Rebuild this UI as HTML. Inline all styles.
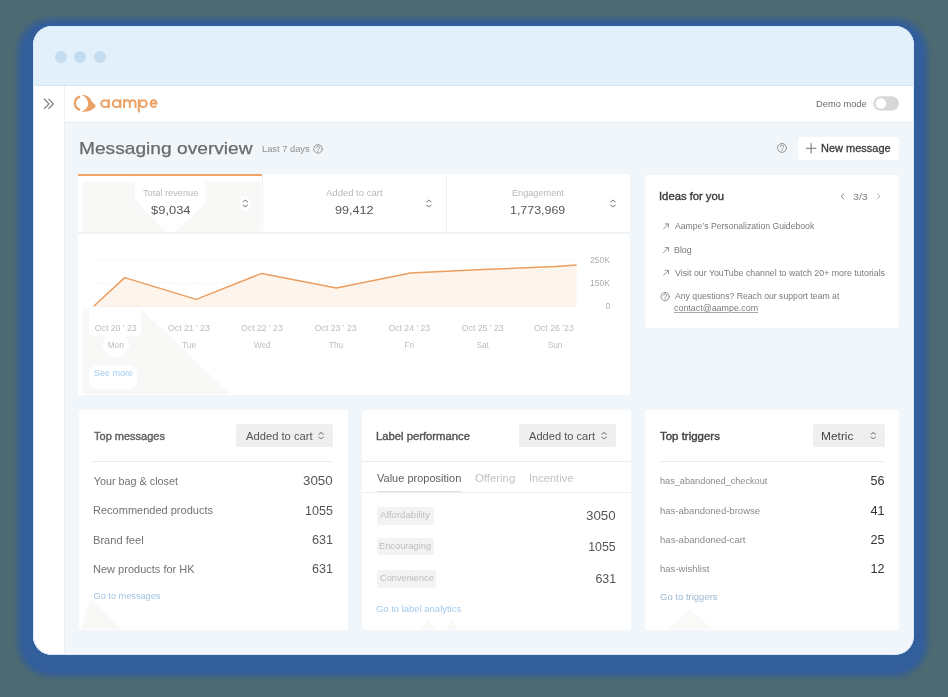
<!DOCTYPE html>
<html><head><meta charset="utf-8">
<style>
*{box-sizing:border-box;margin:0;padding:0}
html,body{width:948px;height:697px;overflow:hidden}
body{background:#4d6a72;font-family:"Liberation Sans",sans-serif;position:relative;color:#555}
.a{position:absolute;white-space:nowrap;transform-origin:0 0}
svg.a{overflow:visible}
#win{position:absolute;left:33px;top:26px;width:881px;height:629px;border-radius:19px;background:#f1f6fb;overflow:hidden;
 box-shadow:-.75px 7.2px 0 10.5px #325e9b,-.75px 7.2px 4px 14.5px rgba(50,94,155,.75)}
#tb{position:absolute;left:0;top:0;width:881px;height:60px;background:#e2f0fc;border-bottom:1px solid #d9e5ef}
.dot{position:absolute;top:25px;width:12px;height:12px;border-radius:50%;background:#c4dcef}
#side{position:absolute;left:0;top:60px;width:32px;height:569px;background:#fff;border-right:1px solid #eceff2}
#hdr{position:absolute;left:32px;top:60px;width:849px;height:37px;background:#fff;border-bottom:1px solid #e6ecf2}
.card{position:absolute;background:#fff;border-radius:3px}
.dd{position:absolute;background:#efefef;border-radius:2px;height:23px;top:424px}
.hl{position:absolute;height:1px;background:#ececec}
.badge{position:absolute;background:#f3f3f3;border-radius:3px}
</style></head><body>
<div id="win">
  <div id="tb">
    <div class="dot" style="left:22px"></div>
    <div class="dot" style="left:41px"></div>
    <div class="dot" style="left:61px"></div>
  </div>
  <div id="side"></div>
  <div id="hdr"></div>
  <div style="position:absolute;left:0;top:0;width:881px;height:629px;border-radius:19px;border:1.5px solid #d7e9f8"></div>
</div>

<!-- header icons -->
<svg class="a" style="left:0;top:0" width="948" height="697" viewBox="0 0 948 697">
  <!-- double chevron -->
  <g fill="none" stroke="#777" stroke-width="1.2" stroke-linecap="round" stroke-linejoin="round">
    <path d="M44.4 99.2 L49 103.8 L44.4 108.4"/>
    <path d="M48.8 99.2 L53.4 103.8 L48.8 108.4"/>
  </g>
  <!-- logo icon -->
  <g fill="#eaa267" stroke="none">
    <path d="M80.1 96.7 A6.8 6.8 0 0 0 80.1 109.9" fill="none" stroke="#eaa267" stroke-width="2.4"/>
    <path d="M82.0 95.1 C86.6 94.8 90.6 97.5 91.7 101.3 C92.5 102.9 94.3 103.9 95.2 104.9 C96.0 105.8 95.7 107.4 93.7 108.3 C91.4 110.8 87.2 112.3 81.3 111.6 C85.6 110.1 88.1 107.1 88.1 103.5 C88.1 100.2 86.1 97.4 82.0 95.1 Z"/>
  </g>
  <!-- logo text aampe -->
  <g fill="none" stroke="#eaa267" stroke-width="2">
    <ellipse cx="105" cy="103.65" rx="3.75" ry="3.45"/>
    <path d="M108.9 99.2 V108.1"/>
    <ellipse cx="116.5" cy="103.65" rx="3.75" ry="3.45"/>
    <path d="M120.4 99.2 V108.1"/>
    <path d="M124.1 99.2 V108.1 M124.1 103.1 a2.85 2.85 0 0 1 5.7 0 V108.1 M129.8 103.1 a2.85 2.85 0 0 1 5.7 0 V108.1"/>
    <path d="M138.8 99.2 V112.4"/>
    <ellipse cx="143.2" cy="103.65" rx="3.6" ry="3.45"/>
    <path d="M150.6 103.6 H156.6 A3 3.45 0 1 0 156.1 105.5"/>
  </g>
  <!-- demo toggle -->
  <rect x="873.3" y="96.3" width="25.6" height="14.3" rx="7.15" fill="#d7d7d7"/>
  <circle cx="880.9" cy="103.5" r="5.3" fill="#fff"/>
</svg>

<!-- cards -->
<div class="card" style="left:78px;top:174px;width:552px;height:221px"></div>
<div style="position:absolute;left:83px;top:181.8px;width:177.5px;height:50px;background:#f8f8f7;border-radius:3px"></div>
<div style="position:absolute;left:78px;top:174px;width:184px;height:2px;background:#efa56a"></div>
<div style="position:absolute;left:262px;top:176px;width:1px;height:56px;background:#eef2f6"></div>
<div style="position:absolute;left:446px;top:176px;width:1px;height:56px;background:#eef2f6"></div>
<div style="position:absolute;left:78px;top:232px;width:552px;height:1.5px;background:#eef3f8"></div>

<div class="card" style="left:645px;top:175px;width:254px;height:153px"></div>

<div class="card" style="left:79px;top:410px;width:269px;height:220px"></div>
<div class="card" style="left:362px;top:410px;width:268.5px;height:220px"></div>
<div class="card" style="left:645px;top:410px;width:254px;height:220px"></div>
<div class="dd" style="left:236px;width:97px"></div>
<div class="dd" style="left:519px;width:97px"></div>
<div class="dd" style="left:813px;width:71.5px"></div>
<div class="hl" style="left:91px;top:461px;width:241px"></div>
<div class="hl" style="left:362px;top:461px;width:269px"></div>
<div class="hl" style="left:660px;top:461px;width:224px"></div>
<div class="hl" style="left:362px;top:491.5px;width:269px;background:#efefef"></div>
<div class="hl" style="left:376.5px;top:490.5px;width:84px;height:1.5px;background:#e0e0e0"></div>
<div class="badge" style="left:376.5px;top:507.3px;width:57px;height:17.3px"></div>
<div class="badge" style="left:376.5px;top:538px;width:57px;height:17.3px"></div>
<div class="badge" style="left:376.5px;top:569.8px;width:59.3px;height:17.8px"></div>

<!-- ghosts (gif artifacts) -->
<svg class="a" style="left:0;top:0" width="948" height="697" viewBox="0 0 948 697">
  <polygon points="135,181.8 205.5,181.8 205.5,203.4 175.2,231.8 166.3,231.8 135,199.5" fill="#fff"/>
  <ellipse cx="245.3" cy="203.5" rx="5.5" ry="7.5" fill="#fff"/>
  <polygon points="82.7,308.5 140.6,308.5 229.8,394 82.7,394" fill="#f8f8f7"/>
  <path d="M89 308.5 H141 V330 Q141 336 135 336 H95 Q89 336 89 330 Z" fill="#fff"/>
  <polygon points="106,336 126,336 130,346 123,357 109,357 102,346" fill="#fff"/>
  <rect x="89" y="366" width="48" height="23" rx="7" fill="#fff"/>
  <polygon points="81.5,629.5 90,599 122.5,629.5" fill="#f8f8f7"/>
  <polygon points="668,629.5 689,609 714,629.5" fill="#f9f9f8"/>
  <polygon points="420,629.5 428.5,620.5 437.5,629.5" fill="#f9f9f8"/>
  <polygon points="446,629.5 452,620.5 458,629.5" fill="#f9f9f8"/>
</svg>
<!-- new message button -->
<div style="position:absolute;left:798px;top:136.5px;width:101px;height:23px;background:#fff;border-radius:4px"></div>

<!-- icons overlay -->
<svg class="a" style="left:0;top:0" width="948" height="697" viewBox="0 0 948 697">
  <g fill="none" stroke-linecap="round" stroke-linejoin="round">
    <!-- help circles -->
    <g stroke="#8f8f8f" stroke-width=".95">
      <circle cx="318" cy="148.85" r="4.25"/>
      <circle cx="782" cy="147.9" r="4.45"/>
      <circle cx="665.15" cy="296.6" r="4.15" stroke="#8a8a8a"/>
    </g>
    <g stroke="#8f8f8f" stroke-width=".95">
      <path d="M316.5 147.6 a1.5 1.5 0 1 1 2.1 1.4 q-.6 .3 -.6 1"/>
      <path d="M780.4 146.6 a1.6 1.6 0 1 1 2.2 1.5 q-.6 .3 -.6 1"/>
      <path d="M663.65 295.35 a1.5 1.5 0 1 1 2.1 1.4 q-.6 .3 -.6 1"/>
    </g>
    <g fill="#8f8f8f" stroke="none">
      <circle cx="318" cy="151.2" r=".55"/>
      <circle cx="782" cy="150.3" r=".55"/>
      <circle cx="665.15" cy="298.9" r=".55"/>
    </g>
    <!-- plus -->
    <path d="M811.1 143.6 V153.1 M806.3 148.3 H815.9" stroke="#8c8c8c" stroke-width="1.3"/>
    <!-- up/down chevrons -->
    <g stroke="#8e8e8e" stroke-width="1.05">
      <path d="M243.10 201.8 L245.30 200.1 L247.50 201.8 M243.10 205.1 L245.30 206.9 L247.50 205.1"/>
      <path d="M426.70 201.8 L428.90 200.1 L431.10 201.8 M426.70 205.1 L428.90 206.9 L431.10 205.1"/>
      <path d="M610.80 201.8 L613.00 200.1 L615.20 201.8 M610.80 205.1 L613.00 206.9 L615.20 205.1"/>
      <path d="M318.80 434.3 L321.10 432.5 L323.40 434.3 M318.80 437.1 L321.10 438.8 L323.40 437.1"/>
      <path d="M601.80 434.3 L604.10 432.5 L606.40 434.3 M601.80 437.1 L604.10 438.8 L606.40 437.1"/>
      <path d="M871.00 434.3 L873.30 432.5 L875.60 434.3 M871.00 437.1 L873.30 438.8 L875.60 437.1"/>
    </g>
    <!-- ideas pager -->
    <path d="M843.6 194 L841.2 196.4 L843.6 198.8" stroke="#777" stroke-width="1"/>
    <path d="M877.6 194 L880 196.4 L877.6 198.8" stroke="#aaa" stroke-width="1"/>
    <!-- arrows -->
    <g stroke="#8a8a8a" stroke-width=".9">
      <path d="M663.5 228.9 L668.5 223.9 M665.2 223.9 H668.5 V227.2"/>
      <path d="M663.5 252.6 L668.5 247.6 M665.2 247.6 H668.5 V250.9"/>
      <path d="M663.5 275.4 L668.5 270.4 M665.2 270.4 H668.5 V273.7"/>
    </g>
  </g>
</svg>

<!-- chart -->
<svg class="a" style="left:0;top:0" width="948" height="697" viewBox="0 0 948 697">
  <g stroke="#edf0f3" stroke-width=".8" stroke-dasharray="1.5 1.5">
    <path d="M93.5 260.2 H577"/>
    <path d="M93.5 283.4 H577"/>
  </g>
  <path d="M93.7 306.2 L124.7 277.6 L196.2 299.4 L261.7 273.4 L336.4 288.1 L410.5 273.1 L482.5 269.6 L555.3 266.6 L576.6 265 V306.3 H93.7 Z" fill="#fdf4eb"/>
  <path d="M93.5 306.4 H577" stroke="#efefef" stroke-width=".8"/>
  <path d="M93.7 306.2 L124.7 277.6 L196.2 299.4 L261.7 273.4 L336.4 288.1 L410.5 273.1 L482.5 269.6 L555.3 266.6 L576.6 265" fill="none" stroke="#eb9e60" stroke-width="1.5" stroke-linejoin="round"/>
</svg>

<div id="tx" style="position:absolute;left:0;top:0;width:948px;height:697px;will-change:transform">
<span class="a" style="left:816.46px;top:99.37px;font-size:9.6px;line-height:9.6px;color:#6a6a6a;transform:scaleX(0.9692);">Demo mode</span>
<span class="a" style="left:78.57px;top:139.81px;font-size:17.0px;line-height:17.0px;color:#6a6a6a;transform:scaleX(1.1271);-webkit-text-stroke:.25px #6a6a6a;">Messaging overview</span>
<span class="a" style="left:261.75px;top:143.67px;font-size:9.6px;line-height:9.6px;color:#8f8f8f;transform:scaleX(0.9721);">Last 7 days</span>
<span class="a" style="left:820.82px;top:142.53px;font-size:10.6px;line-height:10.6px;color:#3a3a3a;-webkit-text-stroke:0.30px #3a3a3a;transform:scaleX(1.0375);">New message</span>
<span class="a" style="left:142.82px;top:188.82px;font-size:8.6px;line-height:8.6px;color:#b8b8b8;transform:scaleX(1.0733);">Total revenue</span>
<span class="a" style="left:151.17px;top:204.61px;font-size:11.8px;line-height:11.8px;color:#555;transform:scaleX(1.0963);">$9,034</span>
<span class="a" style="left:325.90px;top:188.82px;font-size:8.6px;line-height:8.6px;color:#b8b8b8;transform:scaleX(1.1060);">Added to cart</span>
<span class="a" style="left:335.10px;top:204.61px;font-size:11.8px;line-height:11.8px;color:#555;transform:scaleX(1.0663);">99,412</span>
<span class="a" style="left:512.07px;top:188.82px;font-size:8.6px;line-height:8.6px;color:#b8b8b8;transform:scaleX(1.0644);">Engagement</span>
<span class="a" style="left:510.43px;top:204.61px;font-size:11.8px;line-height:11.8px;color:#555;transform:scaleX(1.0523);">1,773,969</span>
<span class="a" style="left:94.85px;top:323.94px;font-size:8.7px;line-height:8.7px;color:#bdbdbd;">Oct 20 ' 23</span>
<span class="a" style="left:107.63px;top:340.77px;font-size:8.3px;line-height:8.3px;color:#bdbdbd;">Mon</span>
<span class="a" style="left:168.05px;top:323.94px;font-size:8.7px;line-height:8.7px;color:#bdbdbd;">Oct 21 ' 23</span>
<span class="a" style="left:182.07px;top:340.77px;font-size:8.3px;line-height:8.3px;color:#bdbdbd;">Tue</span>
<span class="a" style="left:241.05px;top:323.94px;font-size:8.7px;line-height:8.7px;color:#bdbdbd;">Oct 22 ' 23</span>
<span class="a" style="left:253.77px;top:340.77px;font-size:8.3px;line-height:8.3px;color:#bdbdbd;">Wed</span>
<span class="a" style="left:314.85px;top:323.94px;font-size:8.7px;line-height:8.7px;color:#bdbdbd;">Oct 23 ' 23</span>
<span class="a" style="left:328.84px;top:340.77px;font-size:8.3px;line-height:8.3px;color:#bdbdbd;">Thu</span>
<span class="a" style="left:388.45px;top:323.94px;font-size:8.7px;line-height:8.7px;color:#bdbdbd;">Oct 24 ' 23</span>
<span class="a" style="left:404.49px;top:340.77px;font-size:8.3px;line-height:8.3px;color:#bdbdbd;">Fri</span>
<span class="a" style="left:461.85px;top:323.94px;font-size:8.7px;line-height:8.7px;color:#bdbdbd;">Oct 25 ' 23</span>
<span class="a" style="left:476.40px;top:340.77px;font-size:8.3px;line-height:8.3px;color:#bdbdbd;">Sat</span>
<span class="a" style="left:533.95px;top:323.94px;font-size:8.7px;line-height:8.7px;color:#bdbdbd;transform:scaleX(1.0124);">Oct 26 '23</span>
<span class="a" style="left:547.68px;top:340.77px;font-size:8.3px;line-height:8.3px;color:#bdbdbd;">Sun</span>
<span class="a" style="left:589.98px;top:255.72px;font-size:8.6px;line-height:8.6px;color:#ababab;">250K</span>
<span class="a" style="left:589.98px;top:279.22px;font-size:8.6px;line-height:8.6px;color:#ababab;">150K</span>
<span class="a" style="left:605.53px;top:302.22px;font-size:8.6px;line-height:8.6px;color:#ababab;">0</span>
<span class="a" style="left:93.54px;top:368.75px;font-size:8.8px;line-height:8.8px;color:#a3cbee;transform:scaleX(1.0218);">See more</span>
<span class="a" style="left:658.99px;top:191.07px;font-size:10.9px;line-height:10.9px;color:#3d3d3d;-webkit-text-stroke:0.38px #3d3d3d;transform:scaleX(1.0324);">Ideas for you</span>
<span class="a" style="left:853.28px;top:192.27px;font-size:9.6px;line-height:9.6px;color:#808080;transform:scaleX(1.1015);">3/3</span>
<span class="a" style="left:674.50px;top:222.11px;font-size:9.2px;line-height:9.2px;color:#7a7a7a;transform:scaleX(0.9411);">Aampe’s Personalization Guidebook</span>
<span class="a" style="left:673.99px;top:246.01px;font-size:9.2px;line-height:9.2px;color:#7a7a7a;transform:scaleX(0.9615);">Blog</span>
<span class="a" style="left:674.70px;top:269.01px;font-size:9.2px;line-height:9.2px;color:#7a7a7a;transform:scaleX(0.9574);">Visit our YouTube channel to watch 20+ more tutorials</span>
<span class="a" style="left:674.70px;top:291.91px;font-size:9.2px;line-height:9.2px;color:#7a7a7a;transform:scaleX(0.9437);">Any questions? Reach our support team at</span>
<span class="a" style="left:674.34px;top:303.81px;font-size:9.2px;line-height:9.2px;color:#7a7a7a;transform:scaleX(0.9673);text-decoration:underline;text-decoration-color:#aaa;">contact@aampe.com</span>
<span class="a" style="left:93.78px;top:431.07px;font-size:10.9px;line-height:10.9px;color:#606060;-webkit-text-stroke:0.40px #606060;transform:scaleX(1.0110);">Top messages</span>
<span class="a" style="left:245.50px;top:430.89px;font-size:11.0px;line-height:11.0px;color:#555;transform:scaleX(1.0175);">Added to cart</span>
<span class="a" style="left:93.78px;top:476.16px;font-size:10.8px;line-height:10.8px;color:#737373;">Your bag &amp; closet</span>
<span class="a" style="left:303.20px;top:475.20px;font-size:12.4px;line-height:12.4px;color:#555;transform:scaleX(1.0760);">3050</span>
<span class="a" style="left:93.12px;top:505.46px;font-size:10.8px;line-height:10.8px;color:#737373;transform:scaleX(1.0200);">Recommended products</span>
<span class="a" style="left:304.92px;top:504.50px;font-size:12.4px;line-height:12.4px;color:#555;transform:scaleX(1.0126);">1055</span>
<span class="a" style="left:93.11px;top:534.86px;font-size:10.8px;line-height:10.8px;color:#737373;transform:scaleX(1.0294);">Brand feel</span>
<span class="a" style="left:311.97px;top:533.90px;font-size:12.4px;line-height:12.4px;color:#555;transform:scaleX(1.0156);">631</span>
<span class="a" style="left:93.12px;top:563.86px;font-size:10.8px;line-height:10.8px;color:#737373;transform:scaleX(1.0203);">New products for HK</span>
<span class="a" style="left:311.97px;top:562.90px;font-size:12.4px;line-height:12.4px;color:#555;transform:scaleX(1.0156);">631</span>
<span class="a" style="left:93.54px;top:592.41px;font-size:9.2px;line-height:9.2px;color:#a0c3e2;">Go to messages</span>
<span class="a" style="left:375.60px;top:430.97px;font-size:10.9px;line-height:10.9px;color:#555;-webkit-text-stroke:0.40px #555;transform:scaleX(1.0343);">Label performance</span>
<span class="a" style="left:528.70px;top:430.89px;font-size:11.0px;line-height:11.0px;color:#555;transform:scaleX(1.0099);">Added to cart</span>
<span class="a" style="left:376.50px;top:473.17px;font-size:10.9px;line-height:10.9px;color:#5e5e5e;transform:scaleX(1.0108);">Value proposition</span>
<span class="a" style="left:474.84px;top:473.17px;font-size:10.9px;line-height:10.9px;color:#c2c2c2;transform:scaleX(1.0446);">Offering</span>
<span class="a" style="left:528.60px;top:473.17px;font-size:10.9px;line-height:10.9px;color:#c2c2c2;transform:scaleX(1.0177);">Incentive</span>
<span class="a" style="left:380.00px;top:511.48px;font-size:9.0px;line-height:9.0px;color:#bdbdbd;transform:scaleX(1.0670);">Affordability</span>
<span class="a" style="left:379.26px;top:542.38px;font-size:9.0px;line-height:9.0px;color:#bdbdbd;transform:scaleX(1.0302);">Encouraging</span>
<span class="a" style="left:379.54px;top:574.18px;font-size:9.0px;line-height:9.0px;color:#bdbdbd;transform:scaleX(1.0239);">Convenience</span>
<span class="a" style="left:586.20px;top:510.00px;font-size:12.4px;line-height:12.4px;color:#555;transform:scaleX(1.0760);">3050</span>
<span class="a" style="left:588.13px;top:540.70px;font-size:12.4px;line-height:12.4px;color:#555;">1055</span>
<span class="a" style="left:595.38px;top:572.80px;font-size:12.4px;line-height:12.4px;color:#555;">631</span>
<span class="a" style="left:376.03px;top:604.61px;font-size:9.2px;line-height:9.2px;color:#a3cbee;transform:scaleX(1.0291);">Go to label analytics</span>
<span class="a" style="left:660.17px;top:430.57px;font-size:10.9px;line-height:10.9px;color:#444;-webkit-text-stroke:0.40px #444;transform:scaleX(1.0531);">Top triggers</span>
<span class="a" style="left:820.85px;top:430.52px;font-size:11.2px;line-height:11.2px;color:#444;transform:scaleX(1.0658);">Metric</span>
<span class="a" style="left:659.85px;top:477.43px;font-size:9.3px;line-height:9.3px;color:#8a8a8a;transform:scaleX(0.9837);">has_abandoned_checkout</span>
<span class="a" style="left:870.44px;top:475.43px;font-size:12.6px;line-height:12.6px;color:#333;">56</span>
<span class="a" style="left:659.83px;top:506.93px;font-size:9.3px;line-height:9.3px;color:#8a8a8a;transform:scaleX(1.0245);">has-abandoned-browse</span>
<span class="a" style="left:870.57px;top:504.93px;font-size:12.6px;line-height:12.6px;color:#333;">41</span>
<span class="a" style="left:659.83px;top:535.83px;font-size:9.3px;line-height:9.3px;color:#8a8a8a;transform:scaleX(1.0278);">has-abandoned-cart</span>
<span class="a" style="left:870.44px;top:533.83px;font-size:12.6px;line-height:12.6px;color:#333;">25</span>
<span class="a" style="left:659.83px;top:564.93px;font-size:9.3px;line-height:9.3px;color:#8a8a8a;transform:scaleX(1.0268);">has-wishlist</span>
<span class="a" style="left:870.57px;top:562.93px;font-size:12.6px;line-height:12.6px;color:#333;">12</span>
<span class="a" style="left:659.92px;top:593.21px;font-size:9.2px;line-height:9.2px;color:#9cb9d2;transform:scaleX(1.0346);">Go to triggers</span>
</div>
</body></html>
